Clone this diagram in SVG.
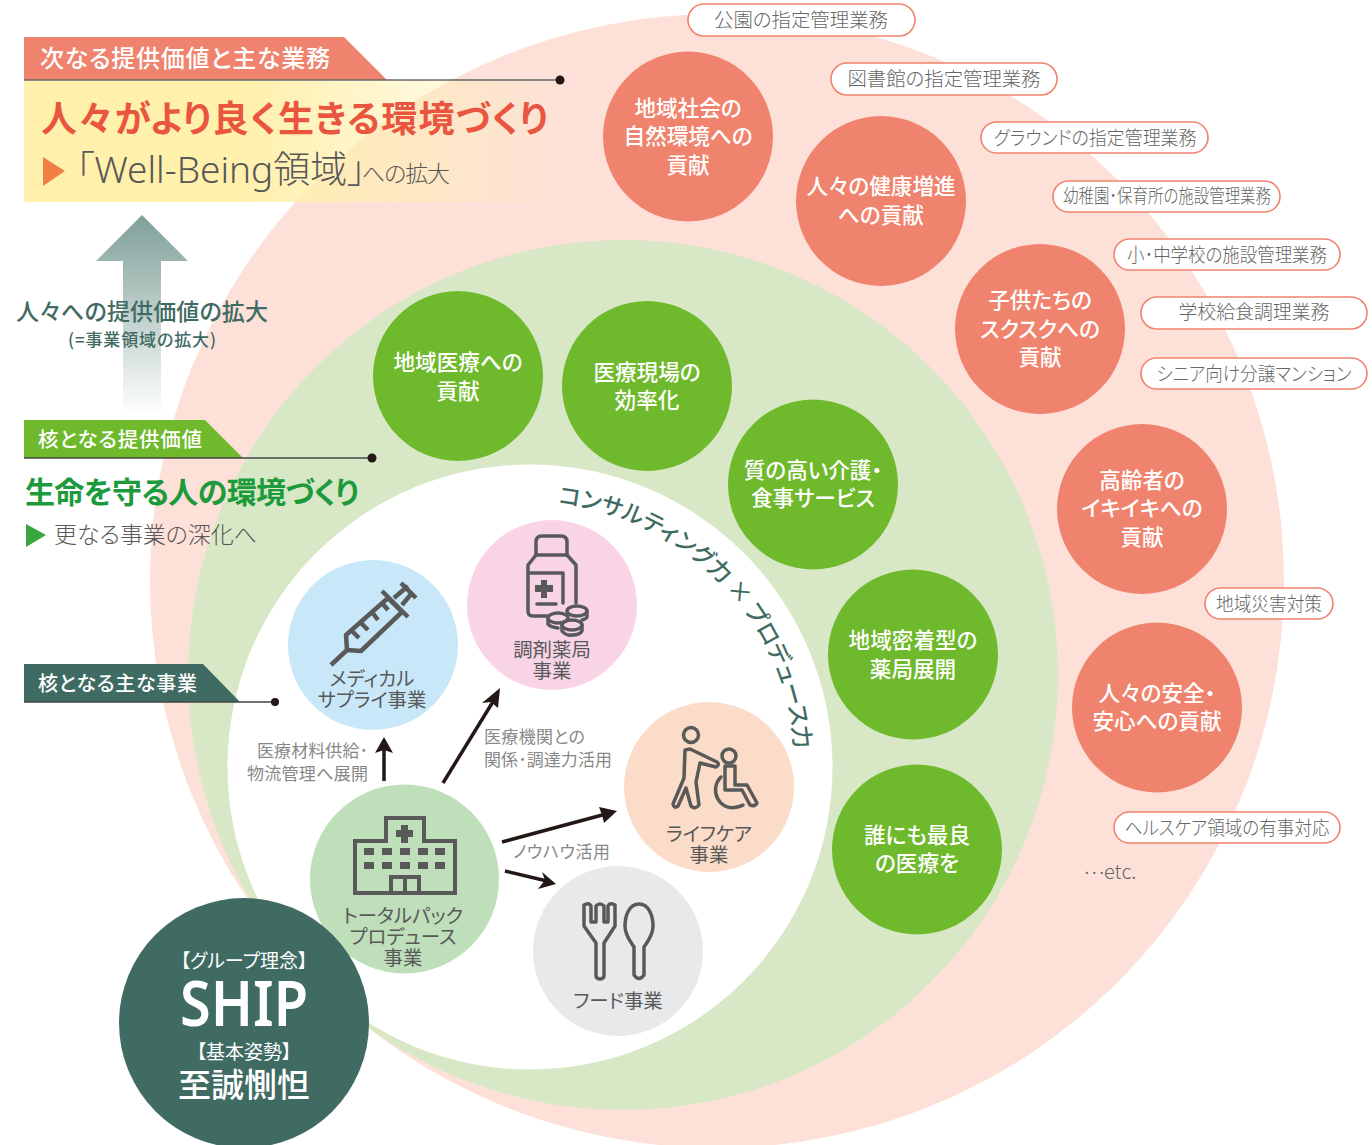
<svg xmlns="http://www.w3.org/2000/svg" xmlns:xlink="http://www.w3.org/1999/xlink" width="1372" height="1145" viewBox="0 0 1372 1145">
<style>
text{font-family:"Noto Sans CJK JP","Noto Sans",sans-serif;text-anchor:middle;font-feature-settings:"palt"}
.w{fill:#fff;font-size:21.6px;font-weight:500}
.c{fill:#59595a;font-size:19.400px}
.l{fill:#888;font-size:17px;text-anchor:start;font-weight:400}
.p{fill:#fff;stroke:#f0836d;stroke-width:1.6}
.pt{fill:#666;font-size:19px;font-weight:300}
.i{fill:none;stroke:#59595a;stroke-width:4;stroke-linejoin:round;stroke-linecap:round}
.k{fill:#59595a}
.a{stroke:#231815;stroke-width:3.5;fill:none}
.ah{fill:#231815}
.coral{fill:#f0836d}.green{fill:#6fb92c}
</style>
<defs>
<linearGradient id="y" x1="0" x2="1" y1="0" y2="0"><stop offset="0" stop-color="#fff0ac"/><stop offset=".4" stop-color="#fff0ac"/><stop offset="1" stop-color="#fff0ac" stop-opacity="0"/></linearGradient>
<linearGradient id="ar" x1="0" x2="0" y1="0" y2="1"><stop offset="0" stop-color="#7f9f98"/><stop offset="1" stop-color="#7f9f98" stop-opacity="0"/></linearGradient>
<path id="arc" d="M558 503.500A265 265 0 0 1 795 767"/>
</defs>
<circle cx="717" cy="581" r="567" fill="#fde1d8"/>
<circle cx="623" cy="675" r="435" fill="#d8e8c6"/>
<circle cx="530" cy="767" r="302.500" fill="#fff"/>

<rect x="24" y="81" width="546" height="121" fill="url(#y)"/>
<path d="M96 261L142 215L188 261H161V415H123V261Z" fill="url(#ar)"/>

<g id="head-next">
<path d="M24 37H344L387 80H24Z" fill="#f0836d"/>
<path d="M24 80H560" stroke="#666" stroke-width="1.500"/><circle cx="560" cy="80" r="4.500" fill="#231815"/>
<text x="185" y="67" fill="#fff" font-size="24" font-weight="500" textLength="290">次なる提供価値と主な業務</text>
<text x="41" y="132" fill="#e9553f" font-size="36" font-weight="700" style="text-anchor:start" textLength="507">人々がより良く生きる環境づくり</text>
<path d="M43 157L65 171L43 186Z" fill="#ef7f45"/>
<text x="76" y="183" fill="#595757" font-size="37" font-weight="300" style="text-anchor:start">「<tspan style="font-family:'Noto Sans',sans-serif">Well-Being</tspan>領域」</text>
<text x="406" y="182" fill="#595757" font-size="23" font-weight="300" textLength="88">への拡大</text>
</g>
<g id="head-expand">
<text x="142" y="320" fill="#3f6b63" font-size="23" font-weight="500" textLength="252">人々への提供価値の拡大</text>
<text x="142" y="346" fill="#3f6b63" font-size="17" font-weight="500" textLength="148">(=事業領域の拡大)</text>
</g>
<g id="head-core">
<path d="M24 420H205L243 458H24Z" fill="#6fb92c"/>
<path d="M24 458H372" stroke="#444" stroke-width="1.500"/><circle cx="372" cy="458" r="4.500" fill="#231815"/>
<text x="120" y="447" fill="#fff" font-size="20.500" font-weight="500" textLength="164">核となる提供価値</text>
<text x="192" y="503" fill="#1d9a3c" font-size="30" font-weight="700" textLength="334">生命を守る人の環境づくり</text>
<path d="M26 524L46 535L26 547Z" fill="#3aa63f"/>
<text x="155.500" y="543" fill="#595757" font-size="23" font-weight="300" textLength="203">更なる事業の深化へ</text>
</g>
<g id="head-biz">
<path d="M24 664H203L240 702H24Z" fill="#3f6b63"/>
<path d="M24 702H275" stroke="#444" stroke-width="1.500"/><circle cx="275" cy="702" r="4" fill="#231815"/>
<text x="117.500" y="691" fill="#fff" font-size="20" font-weight="500" textLength="159">核となる主な事業</text>
</g>

<g id="n-chiiki"><circle class="coral" cx="688" cy="136.500" r="85"/><text class="w" x="688" y="116">地域社会の</text><text class="w" x="688" y="144">自然環境への</text><text class="w" x="688" y="173">貢献</text></g>
<g id="n-kenko"><circle class="coral" cx="881" cy="201" r="85"/><text class="w" x="881" y="194">人々の健康増進</text><text class="w" x="881" y="223">への貢献</text></g>
<g id="n-kodomo"><circle class="coral" cx="1040" cy="329" r="85"/><text class="w" x="1040" y="308">子供たちの</text><text class="w" x="1040" y="337">スクスクへの</text><text class="w" x="1040" y="365">貢献</text></g>
<g id="n-koreisha"><circle class="coral" cx="1142" cy="509" r="85"/><text class="w" x="1142" y="488">高齢者の</text><text class="w" x="1142" y="516">イキイキへの</text><text class="w" x="1142" y="545">貢献</text></g>
<g id="n-anzen"><circle class="coral" cx="1157" cy="707.500" r="85"/><text class="w" x="1157" y="701">人々の安全・</text><text class="w" x="1157" y="729">安心への貢献</text></g>

<g id="n-iryo"><circle class="green" cx="458" cy="376" r="85"/><text class="w" x="458" y="370">地域医療への</text><text class="w" x="458" y="399">貢献</text></g>
<g id="n-genba"><circle class="green" cx="647" cy="386" r="85"/><text class="w" x="647" y="380">医療現場の</text><text class="w" x="647" y="408">効率化</text></g>
<g id="n-kaigo"><circle class="green" cx="813" cy="484.500" r="85"/><text class="w" x="813" y="478">質の高い介護・</text><text class="w" x="813" y="506">食事サービス</text></g>
<g id="n-yakkyoku"><circle class="green" cx="913" cy="654.500" r="85"/><text class="w" x="913" y="648">地域密着型の</text><text class="w" x="913" y="677">薬局展開</text></g>
<g id="n-saikyo"><circle class="green" cx="917" cy="849.500" r="85"/><text class="w" x="917" y="843">誰にも最良</text><text class="w" x="917" y="871">の医療を</text></g>

<g id="p1"><rect class="p" x="688" y="4" width="227" height="32" rx="16"/><text class="pt" x="801" y="27" textLength="174" lengthAdjust="spacingAndGlyphs">公園の指定管理業務</text></g>
<g id="p2"><rect class="p" x="831" y="63" width="226" height="32" rx="16"/><text class="pt" x="944" y="86" textLength="193" lengthAdjust="spacingAndGlyphs">図書館の指定管理業務</text></g>
<g id="p3"><rect class="p" x="981" y="122" width="227" height="31" rx="15.500"/><text class="pt" x="1095" y="145" textLength="203" lengthAdjust="spacingAndGlyphs">グラウンドの指定管理業務</text></g>
<g id="p4"><rect class="p" x="1053" y="181" width="227" height="31" rx="15.500"/><text class="pt" x="1167" y="203" textLength="208" lengthAdjust="spacingAndGlyphs">幼稚園･保育所の施設管理業務</text></g>
<g id="p5"><rect class="p" x="1114" y="239" width="226" height="31" rx="15.500"/><text class="pt" x="1227" y="262" textLength="200" lengthAdjust="spacingAndGlyphs">小･中学校の施設管理業務</text></g>
<g id="p6"><rect class="p" x="1141" y="297" width="226" height="32" rx="16"/><text class="pt" x="1254" y="319" textLength="151" lengthAdjust="spacingAndGlyphs">学校給食調理業務</text></g>
<g id="p7"><rect class="p" x="1141" y="358" width="226" height="31" rx="15.500"/><text class="pt" x="1254" y="381" textLength="195" lengthAdjust="spacingAndGlyphs">シニア向け分譲マンション</text></g>
<g id="p8"><rect class="p" x="1205" y="588" width="128" height="31" rx="15.500"/><text class="pt" x="1269" y="611" textLength="106" lengthAdjust="spacingAndGlyphs">地域災害対策</text></g>
<g id="p9"><rect class="p" x="1114" y="812" width="226" height="31" rx="15.500"/><text class="pt" x="1227" y="835" textLength="205" lengthAdjust="spacingAndGlyphs">ヘルスケア領域の有事対応</text></g>
<text id="etc" x="1110" y="879" fill="#666" font-size="20" font-weight="300"><tspan dy="-5">…</tspan><tspan dy="5">etc.</tspan></text>

<text fill="#3f6b63" font-size="23" font-weight="500" style="text-anchor:start" id="curve"><textPath xlink:href="#arc" href="#arc">コンサルティング力 × プロデュース力</textPath></text>

<g id="n-medical"><circle cx="373" cy="645" r="85" fill="#c8e8f9"/>
<g class="i" style="stroke-width:4.500;stroke-linecap:butt"><path d="M331 665L347 650L346 635L388 598L402 612L361 651L347 650"/><path d="M382 591L408 617"/><path d="M401 583L416 598"/><path d="M394 598L408 586M402 605L412 593"/><path d="M360 622L368 630M372 612L378 620M382 603L388 610M351 630L359 638" /></g>
<text class="c" x="372" y="686">メディカル</text><text class="c" x="372" y="707">サプライ事業</text></g>

<g id="n-chozai"><circle cx="552" cy="605" r="85" fill="#f8d4e6"/>
<g class="i" style="stroke-width:3.500"><path d="M536 555V542Q536 536 542 536H561Q567 536 567 542V555Z"/><path d="M536 555L528 565V611Q528 616 533 616H547"/><path d="M567 555L576 565V603"/><path d="M530 573H563V603M537 604H556"/><ellipse cx="558" cy="618" rx="10" ry="5"/><ellipse cx="577" cy="611" rx="10" ry="5"/><ellipse cx="572" cy="625" rx="10" ry="5"/><path d="M548 618V624Q550 627 558 628M587 611V617Q586 619 582 620M562 625V631Q566 636 572 635Q580 635 582 631V625"/></g>
<path class="k" d="M541 580h6v5h6v7h-6v6h-6v-6h-6v-7h6z"/>
<text class="c" x="552" y="657">調剤薬局</text><text class="c" x="552" y="678">事業</text></g>

<g id="n-total"><circle cx="404.500" cy="879" r="94.500" fill="#bedfb9"/>
<g class="i" style="stroke-linecap:butt;stroke-linejoin:miter"><path d="M355 893V841H386V818H424V841H455V893Z"/><path d="M391 893V877H419V893M405 877V893"/></g>
<path class="k" d="M401 825h7v5h5v7h-5v6h-7v-6h-5v-7h5z"/>
<g class="k"><rect x="364" y="848" width="10" height="7"/><rect x="382" y="848" width="10" height="7"/><rect x="400" y="848" width="10" height="7"/><rect x="418" y="848" width="10" height="7"/><rect x="435" y="848" width="10" height="7"/><rect x="364" y="862" width="10" height="7"/><rect x="382" y="862" width="10" height="7"/><rect x="400" y="862" width="10" height="7"/><rect x="418" y="862" width="10" height="7"/><rect x="435" y="862" width="10" height="7"/></g>
<text class="c" x="403" y="923">トータルパック</text><text class="c" x="403" y="944">プロデュース</text><text class="c" x="403" y="965">事業</text></g>

<g id="n-life"><circle cx="709" cy="787" r="85" fill="#fbdcc8"/>
<g class="i" style="stroke-width:3.500"><circle cx="691" cy="735" r="7.500"/><circle cx="729" cy="756" r="7"/><path d="M685 750L690 749L717 762Q720 765 716 767L700 763L696 782L699 805Q695 810 691 806L686 788L678 806Q674 809 673 804L684 778Z"/><path d="M725 766H735V785H747L757 803Q755 807 750 805L742 790H725Z"/><path d="M721 777C708 790 720 812 737 807C740 806 742 806 743 805"/></g>
<text class="c" x="709" y="841">ライフケア</text><text class="c" x="709" y="862">事業</text></g>

<g id="n-food"><circle cx="618" cy="951" r="85" fill="#e8e9eb"/>
<g class="i" style="stroke-width:3.500"><path d="M584 905V926L596 943V975Q596 979 600 979Q604 979 604 975V943L615 926V905Q610 902 608 906V922H604V906Q600 902 596 906V922H591V906Q589 902 584 905Z"/><path d="M639 904C629 904 625 916 625 926C625 936 631 942 634 947V975Q639 982 644 975V947C647 942 653 936 653 926C653 916 649 904 639 904Z"/></g>
<text class="c" x="618" y="1008">フード事業</text></g>

<g id="n-ship"><circle cx="244" cy="1023" r="125" fill="#3f6b63"/>
<text x="244" y="968" fill="#fff" font-size="19" font-weight="400">【グループ理念】</text>
<text x="244" y="1026" fill="#fff" font-size="64" style="font-family:'Noto Sans',sans-serif;font-weight:600" textLength="128" lengthAdjust="spacingAndGlyphs">SHIP</text>
<text x="244" y="1059" fill="#fff" font-size="19" font-weight="400">【基本姿勢】</text>
<text x="244" y="1097" fill="#fff" font-size="33" font-weight="500">至誠惻怛</text></g>

<g id="connectors">
<path class="a" d="M384 781V748"/><path class="ah" d="M384 737L393 753L384 750L375 753Z"/>
<path class="a" d="M443 783L494 700"/><path class="ah" d="M500 688L498 708L491 702L482 703Z"/>
<path class="a" d="M502 842L606 814"/><path class="ah" d="M617 811L604 823L602 815L599 807Z"/>
<path class="a" d="M505 871L547 881"/><path class="ah" d="M556 884L538 889L545 880L542 872Z"/>
</g>
<g id="labels">
<text class="l" x="257" y="757" textLength="111">医療材料供給･</text><text class="l" x="247" y="780" textLength="121">物流管理へ展開</text>
<text class="l" x="484" y="743" textLength="101">医療機関との</text><text class="l" x="484" y="766" textLength="128">関係･調達力活用</text>
<text class="l" x="513" y="858" textLength="97">ノウハウ活用</text>
</g>
</svg>
